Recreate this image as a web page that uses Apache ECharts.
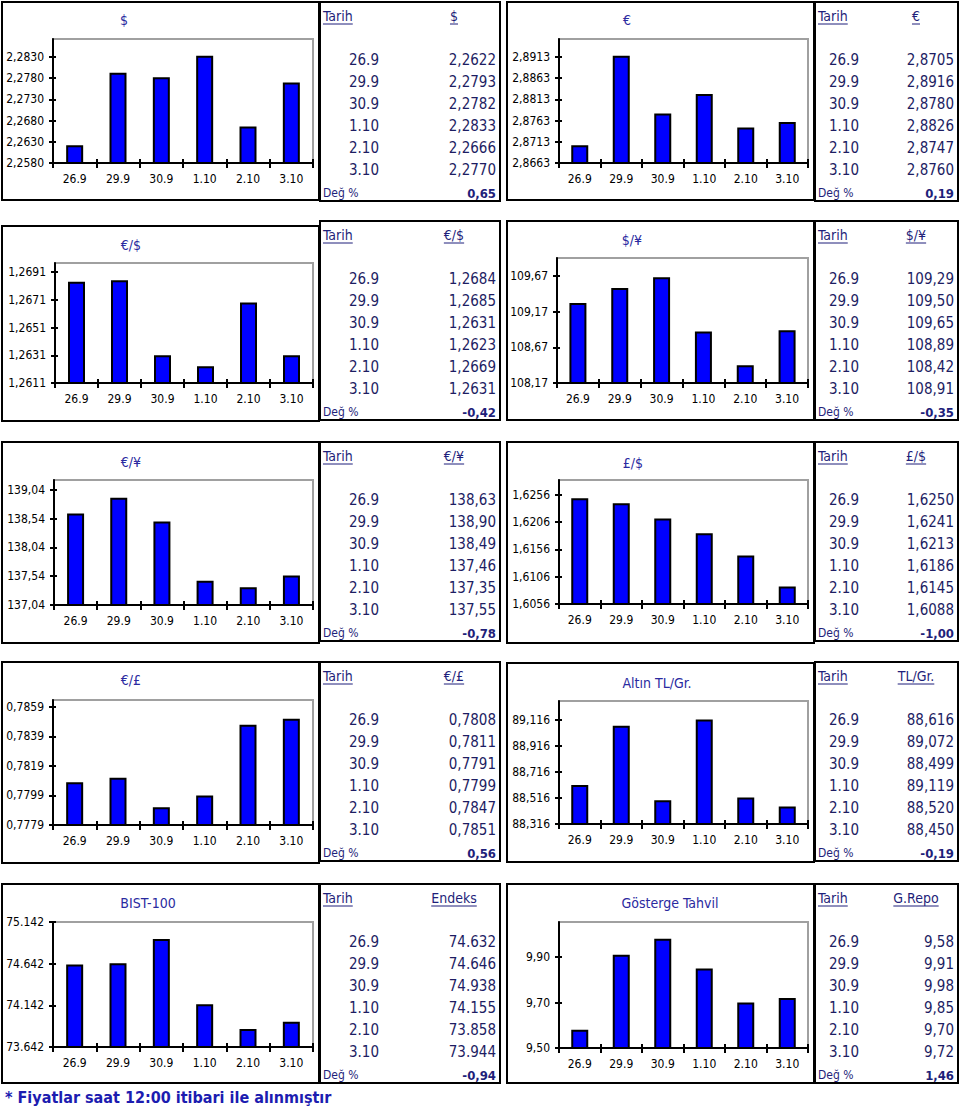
<!DOCTYPE html>
<html>
<head>
<meta charset="utf-8">
<script src="https://cdn.jsdelivr.net/npm/echarts@6/dist/echarts.min.js"></script>
<style>html,body{margin:0;padding:0;background:#fff}#c{width:960px;height:1108px}</style>
</head>
<body>
<div id="c"></div>
<script>
// ---------------- DATA ----------------
const dates = ['26.9', '29.9', '30.9', '1.10', '2.10', '3.10'];
const chartTitles = ['$', '€', '€/$', '$/¥', '€/¥', '£/$', '€/£', 'Altın TL/Gr.', 'BIST-100', 'Gösterge Tahvil'];
const tableHeads = ['$', '€', '€/$', '$/¥', '€/¥', '£/$', '€/£', 'TL/Gr.', 'Endeks', 'G.Repo'];

const usdValues = [2.2622, 2.2793, 2.2782, 2.2833, 2.2666, 2.2770];
const eurValues = [2.8705, 2.8916, 2.8780, 2.8826, 2.8747, 2.8760];
const eurUsdValues = [1.2684, 1.2685, 1.2631, 1.2623, 1.2669, 1.2631];
const usdJpyValues = [109.29, 109.50, 109.65, 108.89, 108.42, 108.91];
const eurJpyValues = [138.63, 138.90, 138.49, 137.46, 137.35, 137.55];
const gbpUsdValues = [1.6250, 1.6241, 1.6213, 1.6186, 1.6145, 1.6088];
const eurGbpValues = [0.7808, 0.7811, 0.7791, 0.7799, 0.7847, 0.7851];
const goldValues = [88.616, 89.072, 88.499, 89.119, 88.520, 88.450];
const bistValues = [74632, 74646, 74938, 74155, 73858, 73944];
const bondValues = [9.58, 9.91, 9.98, 9.85, 9.70, 9.72];

const changePct = [0.65, 0.19, -0.42, -0.35, -0.78, -1.00, 0.56, -0.19, -0.94, 1.46];

const usdTicks = [2.2580, 2.2630, 2.2680, 2.2730, 2.2780, 2.2830];
const eurTicks = [2.8663, 2.8713, 2.8763, 2.8813, 2.8863, 2.8913];
const eurUsdTicks = [1.2611, 1.2631, 1.2651, 1.2671, 1.2691];
const usdJpyTicks = [108.17, 108.67, 109.17, 109.67];
const eurJpyTicks = [137.04, 137.54, 138.04, 138.54, 139.04];
const gbpUsdTicks = [1.6056, 1.6106, 1.6156, 1.6206, 1.6256];
const eurGbpTicks = [0.7779, 0.7799, 0.7819, 0.7839, 0.7859];
const goldTicks = [88.316, 88.516, 88.716, 88.916, 89.116];
const bistTicks = [73642, 74142, 74642, 75142];
const bondTicks = [9.50, 9.70, 9.90];

// axis top
const axisMax = [2.28725, 2.89555, 1.26975, 109.92, 139.21, 1.62835, 0.78637, 89.262, 75142, 10.054];
// decimals of the numbers ('k' = thousands with dot)
const decimals = [4, 4, 4, 2, 2, 4, 4, 3, 'k', 2];

const footnote = '* Fiyatlar saat 12:00 itibari ile alınmıştır';

const seriesValues = [usdValues, eurValues, eurUsdValues, usdJpyValues, eurJpyValues,
  gbpUsdValues, eurGbpValues, goldValues, bistValues, bondValues];
const tickValues = [usdTicks, eurTicks, eurUsdTicks, usdJpyTicks, eurJpyTicks,
  gbpUsdTicks, eurGbpTicks, goldTicks, bistTicks, bondTicks];

// ---------------- LAYOUT ----------------
const FONT = 'Tahoma, "DejaVu Sans Condensed", "Liberation Sans", sans-serif';
const grids = [
  {left: 53, top: 39, width: 260, height: 124},
  {left: 559, top: 39, width: 249, height: 124},
  {left: 55, top: 263, width: 258, height: 120},
  {left: 557, top: 258, width: 251, height: 125},
  {left: 54, top: 480, width: 259, height: 125},
  {left: 559, top: 480, width: 249, height: 124},
  {left: 53, top: 700, width: 260, height: 125},
  {left: 559, top: 701, width: 249, height: 123},
  {left: 53, top: 922, width: 260, height: 125},
  {left: 559, top: 922, width: 249, height: 126}
];
const chartBoxes = [
  [2, 2, 317, 198], [507, 2, 307, 198],
  [2, 226, 317, 195], [507, 221, 307, 199],
  [2, 442, 317, 201], [507, 442, 307, 201],
  [2, 662, 317, 201], [507, 663, 307, 199],
  [2, 884, 317, 199], [507, 884, 307, 199]
];
const tableTops = [2, 2, 221, 221, 442, 442, 662, 662, 884, 884];
const titlePos = [[124, 20], [627, 20], [131, 245], [632, 240], [131, 462], [633, 463],
  [131, 680], [657, 683], [148, 903], [670, 903]];

function fmt(v, d) {
  if (d === 'k') return Math.round(v).toString().replace(/\B(?=(\d{3})+(?!\d))/g, '.');
  return v.toFixed(d).replace('.', ',');
}

const mctx = document.createElement('canvas').getContext('2d');
function textW(t, font) { mctx.font = font; return mctx.measureText(t).width; }

const TITLE_C = '#2a2aa0', HEAD_C = '#1f1f7a', VAL_C = '#1d1d63';

const option = {
  backgroundColor: '#fff',
  animation: false,
  grid: [], xAxis: [], yAxis: [], series: [], graphic: []
};

function txt(x, y, text, size, color, align, weight) {
  return {
    type: 'text', x: x, y: y, silent: true,
    style: {
      text: text, fill: color,
      font: (weight || 'normal') + ' ' + size + 'px ' + FONT,
      align: align, verticalAlign: 'middle', textAlign: align, textVerticalAlign: 'middle'
    }
  };
}

for (let i = 0; i < 10; i++) {
  const g = grids[i];
  const right = i % 2 === 1;
  option.grid.push({left: g.left, top: g.top, width: g.width, height: g.height,
    show: true, borderColor: '#a0a0a0', borderWidth: 2, backgroundColor: 'transparent'});
  const ticks = tickValues[i];
  const d = decimals[i];
  const yBase = {
    type: 'value', gridIndex: i, position: 'left', min: ticks[0], max: axisMax[i],
    splitLine: {show: false}
  };
  option.yAxis.push(Object.assign({}, yBase, {
    axisLine: {show: true, lineStyle: {color: '#000', width: 2}},
    axisTick: {show: true, inside: false, length: 4, lineStyle: {color: '#000', width: 2}, customValues: ticks},
    axisLabel: {show: true, customValues: ticks, margin: 9, color: '#000', fontSize: 12, fontFamily: FONT,
      formatter: v => fmt(v, d)}
  }));
  option.yAxis.push(Object.assign({}, yBase, {
    axisLine: {show: false},
    axisTick: {show: true, inside: true, length: 3, lineStyle: {color: '#000', width: 2}, customValues: ticks},
    axisLabel: {show: false}
  }));
  const xBase = {type: 'category', gridIndex: i, position: 'bottom', data: dates, boundaryGap: true};
  option.xAxis.push(Object.assign({}, xBase, {
    axisLine: {show: true, lineStyle: {color: '#000', width: 2}},
    axisTick: {show: true, inside: false, length: 5, lineStyle: {color: '#000', width: 2}},
    axisLabel: {show: true, margin: 10, color: '#000', fontSize: 12, fontFamily: FONT}
  }));
  option.xAxis.push(Object.assign({}, xBase, {
    axisLine: {show: false},
    axisTick: {show: true, inside: true, length: 4, lineStyle: {color: '#000', width: 2}},
    axisLabel: {show: false}
  }));
  option.series.push({
    type: 'bar', xAxisIndex: 2 * i, yAxisIndex: 2 * i, data: seriesValues[i],
    barWidth: 17, clip: true,
    itemStyle: {color: '#0000ff', borderColor: '#000', borderWidth: 2}
  });

  // chart box
  const b = chartBoxes[i];
  option.graphic.push({type: 'rect', silent: true, shape: {x: b[0], y: b[1], width: b[2], height: b[3]},
    style: {fill: 'none', stroke: '#000', lineWidth: 2}});
  // title
  option.graphic.push(txt(titlePos[i][0], titlePos[i][1], chartTitles[i], 14, TITLE_C, 'center'));

  // table
  const tTop = tableTops[i];
  const tx0 = right ? 815 : 320, tx1 = right ? 958 : 500;
  option.graphic.push({type: 'rect', silent: true, shape: {x: tx0, y: tTop, width: tx1 - tx0, height: 199},
    style: {fill: 'none', stroke: '#000', lineWidth: 2}});
  const tarihX = tx0 + 3;
  const headC = right ? 916 : 454;
  const dateR = right ? 859 : 379;
  const valR = tx1 - 4;
  const headFont = 'normal 14px ' + FONT;
  option.graphic.push(txt(tarihX, tTop + 14, 'Tarih', 14, HEAD_C, 'left'));
  const wT = textW('Tarih', headFont);
  option.graphic.push({type: 'line', silent: true, shape: {x1: tarihX, y1: tTop + 22, x2: tarihX + wT, y2: tTop + 22},
    style: {stroke: HEAD_C, lineWidth: 1}});
  option.graphic.push(txt(headC, tTop + 14, tableHeads[i], 14, HEAD_C, 'center'));
  const wH = textW(tableHeads[i], headFont);
  option.graphic.push({type: 'line', silent: true, shape: {x1: headC - wH / 2, y1: tTop + 22, x2: headC + wH / 2, y2: tTop + 22},
    style: {stroke: HEAD_C, lineWidth: 1}});
  for (let k = 0; k < dates.length; k++) {
    const y = tTop + 58 + 22 * k;
    option.graphic.push(txt(dateR, y, dates[k], 15, VAL_C, 'right'));
    option.graphic.push(txt(valR, y, fmt(seriesValues[i][k], d), 15, VAL_C, 'right'));
  }
  option.graphic.push(txt(tarihX, tTop + 191, 'Değ %', 12, HEAD_C, 'left'));
  option.graphic.push(txt(valR, tTop + 191, changePct[i].toFixed(2).replace('.', ','), 13, HEAD_C, 'right', 'bold'));
}
option.graphic.push(txt(5, 1097, footnote, 16, '#1c1cb0', 'left', 'bold'));

const chart = echarts.init(document.getElementById('c'), null, {renderer: 'svg', width: 960, height: 1108});
chart.setOption(option);
</script>
</body>
</html>
